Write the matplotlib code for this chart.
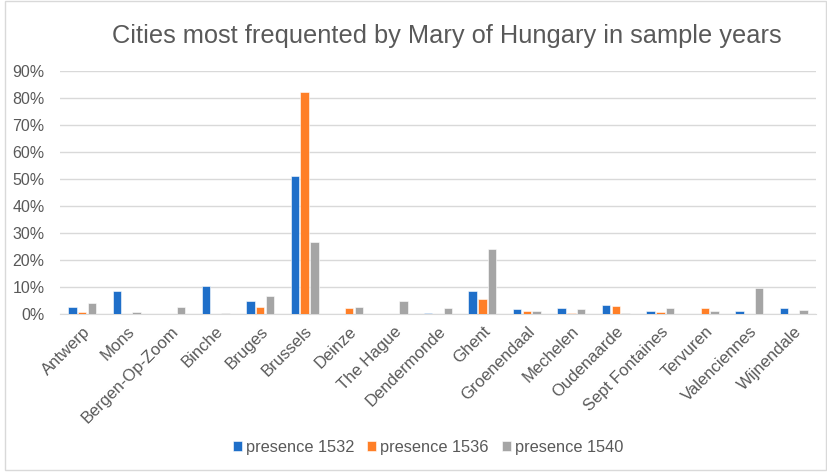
import numpy as np
import matplotlib.pyplot as plt
from matplotlib.patches import Rectangle
from matplotlib.ticker import PercentFormatter

plt.rcParams['font.family'] = ['Liberation Sans', 'DejaVu Sans']

# Data (share of days per city)
cities = ['Antwerp', 'Mons', 'Bergen-Op-Zoom', 'Binche', 'Bruges', 'Brussels',
          'Deinze', 'The Hague', 'Dendermonde', 'Ghent', 'Groenendaal', 'Mechelen',
          'Oudenaarde', 'Sept Fontaines', 'Tervuren', 'Valenciennes', 'Wijnendale']
presence_1532 = [0.025, 0.087, 0.0, 0.105, 0.050, 0.510, 0.0, 0.0, 0.002, 0.087,
                 0.020, 0.022, 0.032, 0.011, 0.0, 0.011, 0.021]
presence_1536 = [0.006, 0.0, 0.0, 0.0, 0.026, 0.823, 0.023, 0.0, 0.0, 0.055,
                 0.010, 0.005, 0.028, 0.006, 0.021, 0.0, 0.0]
presence_1540 = [0.042, 0.006, 0.025, 0.004, 0.065, 0.265, 0.026, 0.048, 0.023, 0.240,
                 0.010, 0.017, 0.003, 0.023, 0.011, 0.098, 0.014]

series = [('presence 1532', presence_1532, '#1F6FC9'),
          ('presence 1536', presence_1536, '#FF7F27'),
          ('presence 1540', presence_1540, '#A5A5A5')]

fig = plt.figure(figsize=(8.28, 4.73), dpi=100)
ax = fig.add_axes([60 / 828, 1 - 314 / 473, 756 / 828, 243 / 473])

x = np.arange(len(cities))
pitch = 0.22
for i, (name, vals, color) in enumerate(series):
    ax.bar(x + (i - 1) * pitch, vals, width=0.19, color=color, label=name,
           edgecolor='white', linewidth=0.4, zorder=3)

ax.set_xlim(-0.5, len(cities) - 0.5)
ax.set_ylim(0, 0.9)
ax.set_yticks(np.arange(0, 0.91, 0.1))
ax.yaxis.set_major_formatter(PercentFormatter(1.0, decimals=0))
ax.grid(axis='y', color='#D9D9D9', linewidth=1, zorder=0)
for side in ['top', 'right', 'left']:
    ax.spines[side].set_visible(False)
ax.spines['bottom'].set_color('#D9D9D9')
ax.tick_params(axis='both', length=0, colors='#595959')
ax.tick_params(axis='y', pad=11, labelsize=11.5)
ax.tick_params(axis='x', pad=7, labelsize=12)
ax.set_xticks(x)
ax.set_xticklabels(cities, rotation=45, ha='right', rotation_mode='anchor')

fig.text(447 / 828, 1 - 36 / 473, 'Cities most frequented by Mary of Hungary in sample years',
         ha='center', va='center', fontsize=18.3, color='#595959')

fig.legend(loc='center', bbox_to_anchor=(428 / 828, 1 - 447 / 473), ncol=3, frameon=False,
           fontsize=11.8, handlelength=0.55, handleheight=0.55, handletextpad=0.25,
           columnspacing=0.8, labelcolor='#595959')

fig.patches.append(Rectangle((5 / 828, 3 / 473), 821 / 828, 469 / 473,
                             transform=fig.transFigure, fill=False,
                             edgecolor='#D9D9D9', linewidth=1))

fig.savefig('out.png', dpi=100)
